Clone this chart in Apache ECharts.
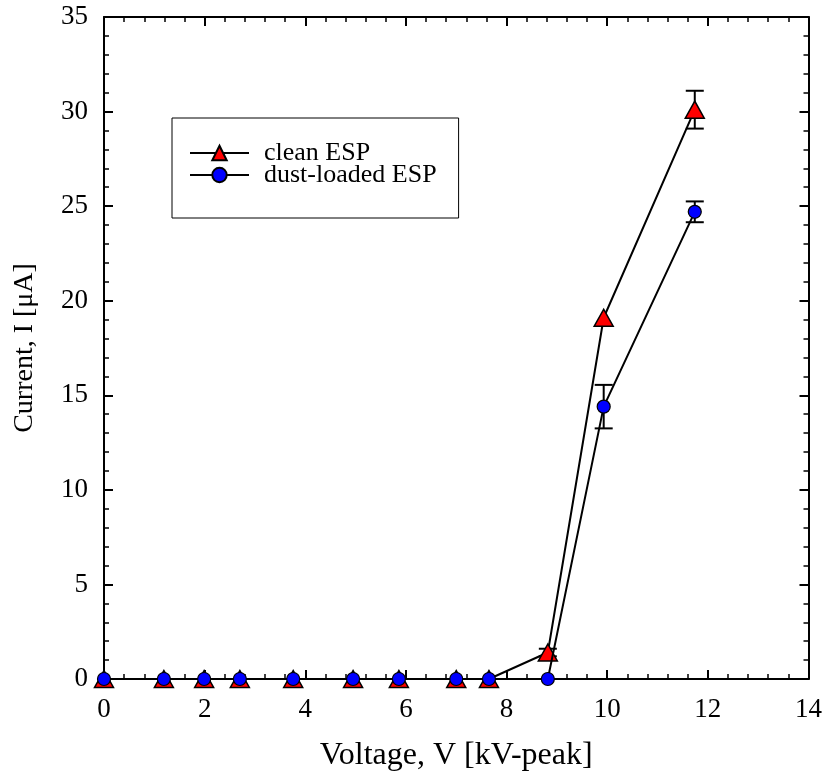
<!DOCTYPE html>
<html>
<head>
<meta charset="utf-8">
<script src="https://cdn.jsdelivr.net/npm/echarts@6/dist/echarts.min.js"></script>
<style>html,body{margin:0;padding:0;background:#fff}#c{width:825px;height:782px}</style>
</head>
<body>
<div id="c"></div>
<script>
var voltage = [0, 1.19, 1.99, 2.70, 3.76, 4.95, 5.86, 7.00, 7.65, 8.82, 9.93, 11.74];
var cleanCurrent = [0, 0, 0, 0, 0, 0, 0, 0, 0, 1.4, 19.1, 30.1];
var cleanError = [0, 0, 0, 0, 0, 0, 0, 0, 0, 0.2, 0, 1.0];
var dustCurrent = [0, 0, 0, 0, 0, 0, 0, 0, 0, 0, 14.4, 24.7];
var dustError = [0, 0, 0, 0, 0, 0, 0, 0, 0, 0, 1.15, 0.55];
var xTicks = [0, 2, 4, 6, 8, 10, 12, 14];
var yTicks = [0, 5, 10, 15, 20, 25, 30, 35];

var FONT = '"Liberation Serif", "Times New Roman", serif';

function pairs(xs, ys) { return xs.map(function (x, i) { return [x, ys[i]]; }); }
function errRows(xs, ys, es) {
  var out = [];
  xs.forEach(function (x, i) { if (es[i] > 0) out.push([x, ys[i] - es[i], ys[i] + es[i]]); });
  return out;
}

var axisCommon = {
  axisLine: { show: true, onZero: false, lineStyle: { color: '#000', width: 2 } },
  axisTick: { show: true, inside: true, length: 9, lineStyle: { color: '#000', width: 2 } },
  minorTick: { show: true, splitNumber: 5, length: 5, lineStyle: { color: '#000', width: 1.5 } },
  splitLine: { show: false },
  minorSplitLine: { show: false }
};

function errorBarSeries(name, rows) {
  return {
    type: 'custom',
    name: name + ' err',
    xAxisIndex: 0, yAxisIndex: 0,
    data: rows,
    encode: { x: 0, y: [1, 2] },
    silent: true,
    z: 2,
    renderItem: function (params, api) {
      var lo = api.coord([api.value(0), api.value(1)]);
      var hi = api.coord([api.value(0), api.value(2)]);
      var w = 9;
      var st = { stroke: '#000', lineWidth: 2 };
      return {
        type: 'group',
        children: [
          { type: 'line', shape: { x1: lo[0], y1: lo[1], x2: hi[0], y2: hi[1] }, style: st },
          { type: 'line', shape: { x1: lo[0] - w, y1: lo[1], x2: lo[0] + w, y2: lo[1] }, style: st },
          { type: 'line', shape: { x1: hi[0] - w, y1: hi[1], x2: hi[0] + w, y2: hi[1] }, style: st }
        ]
      };
    }
  };
}

var chart = echarts.init(document.getElementById('c'), null, { renderer: 'canvas' });
chart.setOption({
  animation: false,
  backgroundColor: '#fff',
  textStyle: { fontFamily: FONT },
  grid: { left: 104, right: 16, top: 17, bottom: 103, containLabel: false },
  xAxis: [
    Object.assign({
      type: 'value', min: 0, max: 14, interval: 2, position: 'bottom',
      name: 'Voltage, V [kV-peak]', nameLocation: 'middle', nameGap: 61,
      nameTextStyle: { fontFamily: FONT, fontSize: 32, color: '#000' },
      axisLabel: { fontFamily: FONT, fontSize: 27, color: '#000', margin: 17,
        formatter: function (v) { return xTicks.indexOf(v) >= 0 ? String(v) : ''; } }
    }, axisCommon),
    Object.assign({
      type: 'value', min: 0, max: 14, interval: 2, position: 'top',
      axisLabel: { show: false }
    }, axisCommon)
  ],
  yAxis: [
    Object.assign({
      type: 'value', min: 0, max: 35, interval: 5, position: 'left',
      name: 'Current, I [\u03bcA]', nameLocation: 'middle', nameGap: 65,
      nameTextStyle: { fontFamily: FONT, fontSize: 28, color: '#000' },
      axisLabel: { fontFamily: FONT, fontSize: 27, color: '#000', margin: 16,
        formatter: function (v) { return yTicks.indexOf(v) >= 0 ? String(v) : ''; } }
    }, axisCommon),
    Object.assign({
      type: 'value', min: 0, max: 35, interval: 5, position: 'right',
      axisLabel: { show: false }
    }, axisCommon)
  ],
  legend: {
    orient: 'vertical',
    left: 172, top: 118,
    padding: [22, 22, 30, 17],
    itemGap: -4,
    itemWidth: 59, itemHeight: 18,
    borderColor: '#000', borderWidth: 1,
    data: ['clean ESP', 'dust-loaded ESP'],
    textStyle: { fontFamily: FONT, fontSize: 26, color: '#000', padding: [0, 0, 0, 10] }
  },
  series: [
    errorBarSeries('clean', errRows(voltage, cleanCurrent, cleanError)),
    errorBarSeries('dust', errRows(voltage, dustCurrent, dustError)),
    {
      type: 'line', name: 'clean ESP',
      data: pairs(voltage, cleanCurrent),
      symbol: 'triangle', symbolSize: [19, 17],
      clip: false, z: 3,
      lineStyle: { color: '#000', width: 2 },
      itemStyle: { color: '#ff0000', borderColor: '#000', borderWidth: 1.5 }
    },
    {
      type: 'line', name: 'dust-loaded ESP',
      data: pairs(voltage, dustCurrent),
      symbol: 'circle', symbolSize: 13,
      clip: false, z: 4,
      lineStyle: { color: '#000', width: 2 },
      itemStyle: { color: '#0000ff', borderColor: '#000', borderWidth: 1.2 }
    }
  ]
});
</script>
</body>
</html>
